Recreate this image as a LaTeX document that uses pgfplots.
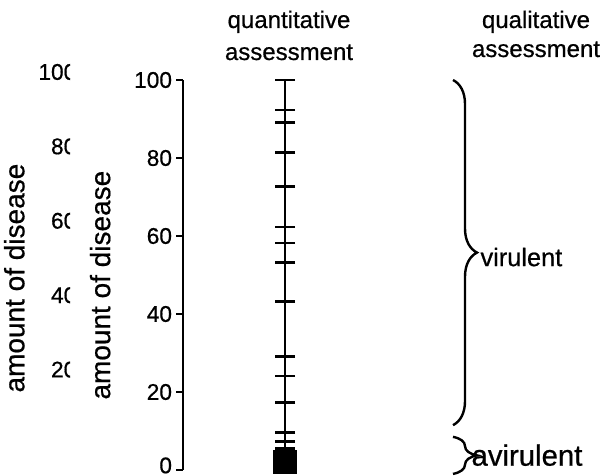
\documentclass[border=0pt]{standalone}
\usepackage{fontspec}
\setmainfont{Liberation Sans}[FakeBold=0.6]
\usepackage{pgfplots}
\pgfplotsset{compat=1.18}
\usetikzlibrary{decorations.pathreplacing}

\begin{document}
\begin{tikzpicture}[x=0.375pt, y=0.375pt]
  \useasboundingbox (0,0) rectangle (604,475);

  % faint duplicate axis at the left edge (cut off in the scan)
  \begin{scope}
    \clip (0,0) rectangle (70,475);
    \begin{axis}[
        at={(34.125pt,11.625pt)}, anchor=south west,
        scale only axis, width=37.5pt, height=139.5pt,
        xmin=0, xmax=100, ymin=0, ymax=100,
        axis x line=none, axis y line=left,
        y axis line style={draw=none},
        ytick={20,40,...,100},
        major tick length=0pt,
        yticklabel style={font=\fontsize{8.5}{10}\selectfont, xshift=-2pt},
        /pgf/number format/assume math mode=true,
        ylabel={amount of disease},
        ylabel style={font=\fontsize{10.5}{12}\selectfont,
          at={(axis description cs:-0.57,0.446)}, anchor=south},
      ]
      \addplot[draw=none] coordinates {(0,0) (100,100)};
    \end{axis}
  \end{scope}

  \begin{axis}[
      at={(68.625pt,1.875pt)}, anchor=south west,
      scale only axis, width=157.875pt, height=146.25pt,
      xmin=0, xmax=421, ymin=0, ymax=100,
      axis x line=none, axis y line=left,
      axis line style={-, line width=0.8pt},
      ytick={0,20,...,100},
      yticklabels={\raisebox{3.5pt}{0},20,40,60,80,100},
      tick align=outside, major tick length=2.6pt,
      tick style={line width=0.8pt, black},
      yticklabel style={font=\fontsize{8.5}{10}\selectfont, xshift=2pt},
      ylabel={amount of disease},
      ylabel style={font=\fontsize{10.5}{12}\selectfont,
        at={(axis description cs:-0.15,0.474)}, anchor=south},
      clip=false,
    ]
    % quantitative assessment: the scale line and the readings
    \addplot[black, line width=0.9pt] coordinates {(102,0) (102,100)};
    \addplot[black, only marks, mark=-, mark size=3.75pt,
      mark options={line width=1.1pt}] coordinates {
      (102,100) (102,92.3) (102,89.0) (102,81.3) (102,72.8)
      (102,62.3) (102,58.2) (102,53.1) (102,43.1) (102,29.2)
      (102,24.1) (102,17.2) (102,9.7) (102,7.4) (102,5.6)};
    \addplot[black, only marks, mark=square*, mark size=4.3pt]
      coordinates {(102,2)};

    % qualitative assessment
    \draw[line width=0.9pt, decorate, decoration={brace, amplitude=9pt}]
      (axis cs:270,100) -- (axis cs:270,11.5);
    \draw[line width=0.9pt, decorate, decoration={brace, amplitude=9pt}]
      (axis cs:270,8.5) -- (axis cs:270,-1);
    \node[anchor=west, inner sep=0pt, font=\fontsize{9.5}{11}\selectfont]
      at (axis cs:297,54.6) {virulent};
    \node[anchor=west, inner sep=0pt, font=\fontsize{11}{12}\selectfont]
      at (axis cs:288,3.8) {avirulent};
  \end{axis}

  \node[anchor=base, font=\fontsize{9}{10}\selectfont] at (289,447) {quantitative};
  \node[anchor=base, font=\fontsize{9}{10}\selectfont] at (289,415) {assessment};
  \node[anchor=base, font=\fontsize{9}{10}\selectfont] at (536,447) {qualitative};
  \node[anchor=base, font=\fontsize{9}{10}\selectfont] at (536,418) {assessment};
\end{tikzpicture}
\end{document}
